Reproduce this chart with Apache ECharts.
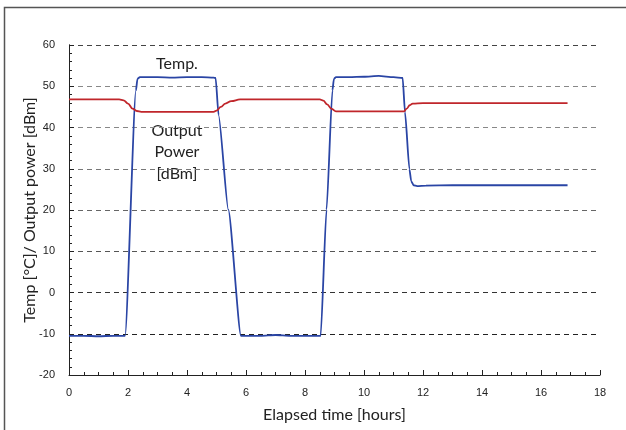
<!DOCTYPE html>
<html>
<head>
<meta charset="utf-8">
<script src="https://cdn.jsdelivr.net/npm/echarts@6/dist/echarts.min.js"></script>
<style>
  html, body { margin: 0; padding: 0; background: #fff; }
  #chart { width: 626px; height: 430px; }
</style>
</head>
<body>
<div id="chart"></div>
<script>
// Elapsed time (hours) and measured temperature [°C]
const tempHours = [0, 0.5, 1.0, 1.5, 1.9, 2.27, 2.32, 2.4, 3.0, 3.5, 4.0, 4.5, 4.9, 4.97, 5.07, 5.4, 5.83, 6.5, 7.0, 7.5, 8.0, 8.53, 8.73, 8.93, 8.98, 9.05, 9.5, 10.0, 10.5, 11.0, 11.31, 11.39, 11.54, 11.6, 11.68, 11.8, 12.1, 13, 14, 15, 16, 16.9];
const tempValues = [-10.5, -10.5, -10.6, -10.5, -10.5, 49, 51.8, 52.2, 52.2, 52.1, 52.2, 52.2, 52.1, 52, 43, 20.1, -10.5, -10.5, -10.3, -10.5, -10.5, -10.5, 20.1, 49, 51.8, 52.2, 52.2, 52.3, 52.5, 52.2, 52, 43.7, 29.9, 27, 26, 25.8, 25.9, 26, 26, 26, 26, 26];

// Elapsed time (hours) and output power [dBm]
const powerHours = [0, 1.0, 1.7, 1.85, 2.0, 2.15, 2.3, 2.45, 3.5, 4.9, 5.0, 5.15, 5.3, 5.5, 5.8, 7.0, 8.5, 8.62, 8.75, 8.9, 9.05, 10.0, 11.35, 11.45, 11.55, 11.65, 12.0, 14.0, 16.9];
const powerValues = [46.8, 46.8, 46.8, 46.6, 45.8, 44.6, 44.0, 43.8, 43.8, 43.8, 44.1, 45.0, 45.8, 46.4, 46.8, 46.8, 46.8, 46.5, 45.6, 44.5, 43.9, 43.9, 43.9, 44.6, 45.4, 45.8, 45.9, 45.9, 45.9];

// Axis ranges
const xMin = 0, xMax = 18, xStep = 2;
const yMin = -20, yMax = 60, yStep = 10;

// Dashed grid colours from the lowest line upward
const gridColors = ['#000', '#222', '#333', '#555', '#666', '#777', '#888', '#888', '#444'];

const pair = (xs, ys) => xs.map((x, i) => [x, ys[i]]);

const chart = echarts.init(document.getElementById('chart'), null, { renderer: 'canvas' });

const tickFont = { fontFamily: '"Liberation Sans Narrow", "Liberation Sans", Arial, sans-serif', fontSize: 11, color: '#222' };
const titleFont = { fontFamily: 'Lato, "Open Sans", sans-serif', fontSize: 16, color: '#222' };
const noteFont = '16px Lato, "Open Sans", sans-serif';

const frame = {
  type: 'rect', silent: true,
  shape: { x: 4.5, y: 7.5, width: 700, height: 500 },
  style: { fill: 'none', stroke: '#555', lineWidth: 1.5 }
};

chart.setOption({
  animation: false,
  backgroundColor: '#fff',
  grid: { left: 69, right: 26, top: 45, bottom: 55, containLabel: false },
  xAxis: {
    type: 'value', min: xMin, max: xMax, interval: xStep,
    name: 'Elapsed time [hours]', nameLocation: 'middle', nameGap: 32,
    nameTextStyle: titleFont,
    axisLine: { show: true, onZero: false, lineStyle: { color: '#222', width: 1 } },
    axisTick: { show: true, inside: true, length: 5, lineStyle: { color: '#222' } },
    minorTick: { show: true, splitNumber: 4, length: 3, lineStyle: { color: '#222' } },
    axisLabel: Object.assign({ margin: 12 }, tickFont),
    splitLine: { show: false }
  },
  yAxis: [{
    type: 'value', min: yMin, max: yMax, interval: yStep,
    name: 'Temp [°C]/ Output power [dBm]', nameLocation: 'middle', nameGap: 31,
    nameMoveOverlap: false,
    nameTextStyle: titleFont,
    axisLine: { show: true, onZero: false, lineStyle: { color: '#222', width: 1 } },
    axisTick: { show: true, inside: true, length: 5, lineStyle: { color: '#222' } },
    minorTick: { show: true, splitNumber: 5, length: 3, lineStyle: { color: '#222' } },
    axisLabel: Object.assign({ margin: 14 }, tickFont),
    splitLine: { show: true, lineStyle: { color: gridColors, type: [5, 4], width: 1.2 } }
  }, {
    type: 'value', min: yMin, max: yMax, interval: yStep, position: 'right',
    axisLine: { show: true, lineStyle: { color: '#222', width: 1 } },
    axisTick: { show: false }, axisLabel: { show: false }, splitLine: { show: false }
  }],
  series: [{
    name: 'Temp.', type: 'line', data: pair(tempHours, tempValues),
    showSymbol: false, smooth: 0.2, smoothMonotone: 'x',
    lineStyle: { color: '#2a45a5', width: 1.8 }, z: 3
  }, {
    name: 'Output Power', type: 'line', data: pair(powerHours, powerValues),
    showSymbol: false, smooth: 0.4, smoothMonotone: 'x',
    lineStyle: { color: '#c0262b', width: 1.8 }, z: 4
  }],
  graphic: [frame]
});

// Annotation text placed at data coordinates
const place = (x, y) => chart.convertToPixel({ gridIndex: 0 }, [x, y]);
const tPos = place(3.66, 55.4);
const pPos = place(3.66, 34.0);
chart.setOption({
  graphic: [frame, {
    type: 'text', x: tPos[0], y: tPos[1],
    style: { text: 'Temp.', align: 'center', verticalAlign: 'middle', font: noteFont, fill: '#222' }
  }, {
    type: 'text', x: pPos[0], y: pPos[1],
    style: { text: 'Output\nPower\n[dBm]', align: 'center', verticalAlign: 'middle', lineHeight: 21.5, font: noteFont, fill: '#222' }
  }]
});
</script>
</body>
</html>
